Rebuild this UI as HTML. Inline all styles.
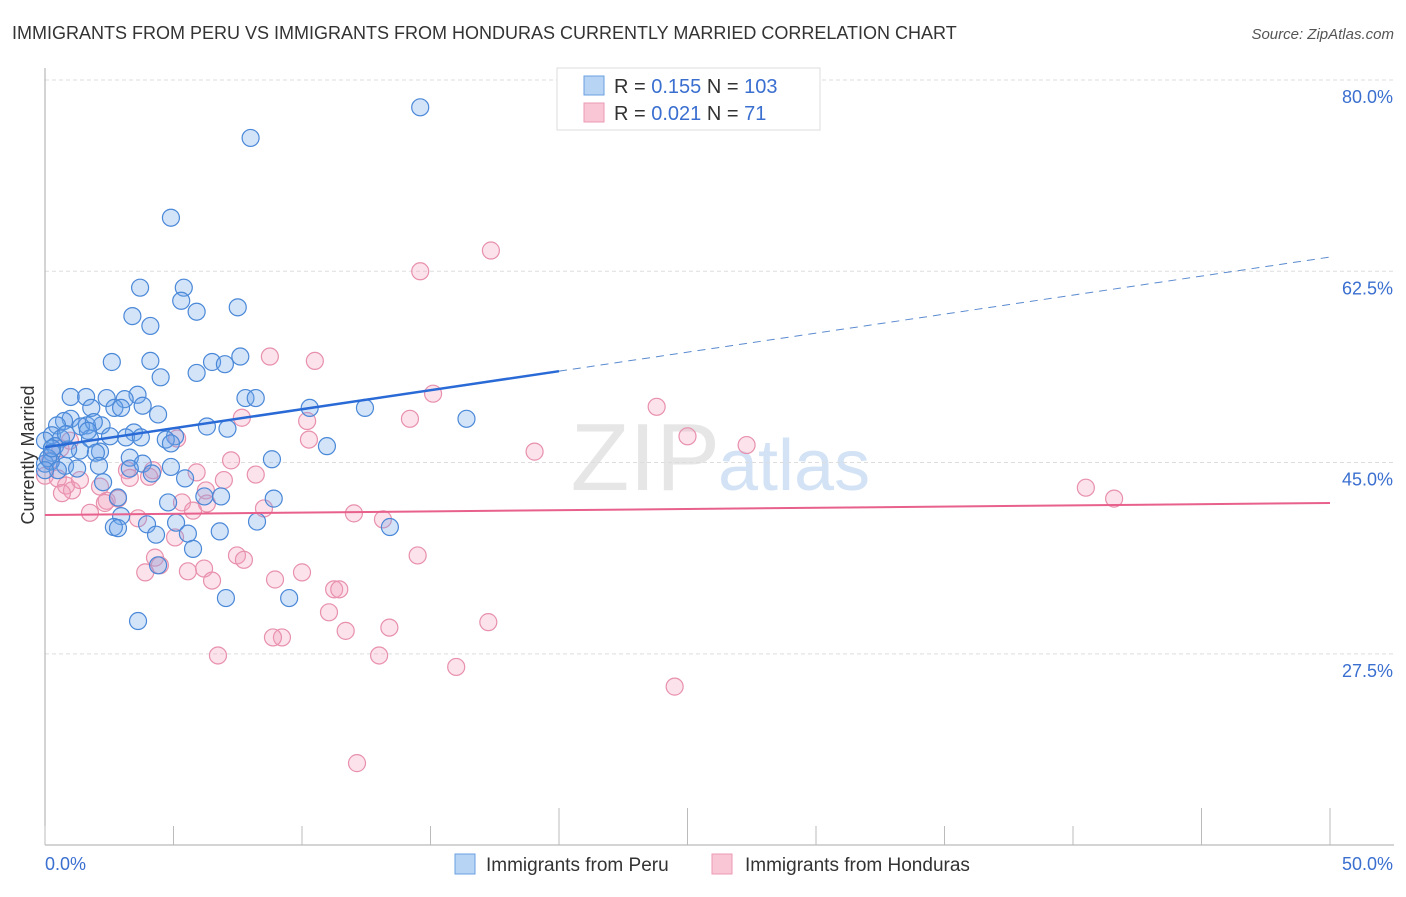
<!DOCTYPE html>
<html><head><meta charset="utf-8"><style>
body{margin:0;background:#fff;font-family:"Liberation Sans",sans-serif;}
svg text{font-family:"Liberation Sans",sans-serif;}
</style></head><body>
<svg id="chart" width="1406" height="892" xmlns="http://www.w3.org/2000/svg">
<text x="12" y="39" font-size="18" fill="#333">IMMIGRANTS FROM PERU VS IMMIGRANTS FROM HONDURAS CURRENTLY MARRIED CORRELATION CHART</text>
<text x="1394" y="39" font-size="15" fill="#555" font-style="italic" text-anchor="end">Source: ZipAtlas.com</text>
<text x="720" y="490" font-size="96" fill="#e6e6e6" text-anchor="end" font-family="Liberation Serif">ZIP</text>
<text x="718" y="490" font-size="72" fill="#d3e3f5">atlas</text>
<g id="grid"></g>
<g id="axes"></g>
<g id="pts"></g>
<g id="trend"></g>
<text transform="translate(34,455) rotate(-90)" font-size="18" fill="#333" text-anchor="middle">Currently Married</text>
<g>
<rect x="557" y="68" width="263" height="62" fill="#fff" stroke="#ddd"/>
<rect x="584" y="76" width="20" height="19" fill="#b8d4f5" stroke="#6aa0e0"/>
<rect x="584" y="103" width="20" height="19" fill="#f9c6d6" stroke="#ec9ab4"/>
<text x="614" y="93" font-size="20" fill="#333">R = <tspan fill="#3a6fd0">0.155</tspan>   N = <tspan fill="#3a6fd0">103</tspan></text>
<text x="614" y="120" font-size="20" fill="#333">R = <tspan fill="#3a6fd0">0.021</tspan>   N = <tspan fill="#3a6fd0">  71</tspan></text>
</g>
<g>
<rect x="455" y="854" width="20" height="20" fill="#b8d4f5" stroke="#6aa0e0"/>
<text x="486" y="871" font-size="19" fill="#333">Immigrants from Peru</text>
<rect x="712" y="854" width="20" height="20" fill="#f9c6d6" stroke="#ec9ab4"/>
<text x="745" y="871" font-size="19" fill="#333">Immigrants from Honduras</text>
</g>
</svg>
<script>
const yTicks=[27.5,45.0,62.5,80.0];
const yTickLabels=["27.5%","45.0%","62.5%","80.0%"];
const xTicks=[0,5,10,15,20,25,30,35,40,45,50];
const xEndLabels=["0.0%","50.0%"];
const peruX=[14.6,8.0,4.9,3.7,5.4,5.3,5.9,7.5,3.4,4.1,2.6,4.1,4.5,7.6,6.5,7.0,5.9,1.0,1.6,2.4,3.6,3.1,7.8,8.2,2.7,2.96,3.8,1.8,10.3,12.45,16.4,4.4,1.0,0.74,2.2,0.47,1.63,1.4,6.3,7.1,1.9,3.46,0.27,0.62,1.75,2.53,3.15,3.73,5.06,4.7,4.9,0,0.39,1.36,0.9,2.14,10.97,0.27,1.98,3.3,8.83,3.8,0,0.78,1.25,2.1,3.3,4.9,4.16,5.45,0.23,2.26,2.84,6.2,6.85,8.9,4.79,2.96,2.68,2.84,3.97,5.1,5.56,6.8,8.25,4.32,5.76,13.42,4.4,7.04,9.5,3.62,0.12,0.5,0,0.27,0.82,1.67];
const peruY=[77.5,74.7,67.4,61.0,61.0,59.8,58.8,59.2,58.4,57.5,54.2,54.3,52.8,54.7,54.2,54.0,53.2,51.0,51.0,50.9,51.2,50.8,50.9,50.9,50.0,50.0,50.2,50.0,50.0,50.0,49.0,49.4,49.0,48.8,48.4,48.4,48.4,48.3,48.3,48.1,48.7,47.75,47.5,47.2,47.2,47.4,47.3,47.3,47.4,47.1,46.75,47.0,46.5,46.1,46.2,46.0,46.5,45.9,45.9,45.45,45.3,44.9,44.9,44.7,44.45,44.7,44.45,44.6,44.0,43.55,45.1,43.2,41.8,41.9,41.9,41.7,41.35,40.1,39.1,39.0,39.35,39.5,38.5,38.7,39.6,38.4,37.1,39.1,35.6,32.6,32.6,30.5,45.4,44.3,44.3,46.3,47.6,47.9];
const hondX=[17.35,14.6,8.75,10.5,15.1,23.8,14.2,7.66,10.2,10.27,19.05,25.0,27.3,5.14,4.2,3.19,7.24,5.9,8.2,6.96,0,0.5,0.82,1.05,1.36,2.14,2.4,1.75,3.3,4.05,6.26,5.33,6.3,5.76,8.52,3.62,5.06,4.28,7.47,7.74,14.5,12.02,13.15,8.95,10.0,3.9,4.47,5.56,6.19,6.5,11.25,11.45,11.05,9.22,8.87,11.7,13.4,17.25,6.73,13.0,16.0,24.5,12.14,40.5,41.6,2.33,2.84,0.2,0.6,0.97,0.66];
const hondY=[64.4,62.5,54.7,54.3,51.3,50.1,49.0,49.1,48.8,47.1,46.0,47.4,46.6,47.2,44.3,44.3,45.2,44.1,43.9,43.4,43.8,43.55,42.9,42.45,43.4,42.8,41.5,40.4,43.6,43.7,42.45,41.35,41.25,40.6,40.8,39.9,38.15,36.3,36.5,36.1,36.5,40.35,39.8,34.3,34.95,34.95,35.6,35.05,35.3,34.2,33.4,33.4,31.3,29.0,29.0,29.6,29.9,30.4,27.35,27.35,26.3,24.5,17.5,42.7,41.7,41.3,41.7,45.2,46.3,47.0,42.2];
const peruTrend=[46.4,63.8]; // value at x=0 and x=50
const hondTrend=[40.2,41.3];
const peruSolidEnd=20;

const NS="http://www.w3.org/2000/svg";
const X0=45,X1=1330,YTOP=80,YPX=10.93;
const sx=v=>X0+(X1-X0)*v/50;
const sy=v=>YTOP+(80-v)*YPX;
function mk(t,a,p){const e=document.createElementNS(NS,t);for(const k in a)e.setAttribute(k,a[k]);p.appendChild(e);return e;}
const grid=document.getElementById('grid'),axes=document.getElementById('axes'),pts=document.getElementById('pts'),trend=document.getElementById('trend');
yTicks.forEach((v,i)=>{
 const l=mk('line',{x1:X0,x2:1394,y1:sy(v),y2:sy(v),stroke:'#ddd','stroke-dasharray':'4,3'},grid);
 
 
 const t=mk('text',{x:1393,y:sy(v)+23,'font-size':18,fill:'#3a6fd0','text-anchor':'end'},grid);
 t.textContent=yTickLabels[i];
 
 
});
const ya=mk('line',{x1:X0,x2:X0,y1:68,y2:845,stroke:'#aaa'},axes);


const xa=mk('line',{x1:X0,x2:1394,y1:845,y2:845,stroke:'#aaa'},axes);


xTicks.forEach((v,i)=>{
 const tk=mk('line',{x1:sx(v),x2:sx(v),y1:(v%25===20||v===25||v===50)?808:826,y2:845,stroke:'#bbb'},axes);
 
 
});
[[0,'start'],[50,'end']].forEach((p,i)=>{
 const t=mk('text',{x:i?1393:X0,y:870,'font-size':18,fill:'#3a6fd0','text-anchor':p[1]},axes);
 t.textContent=xEndLabels[i];
 
 
});
function dots(xs,ys,fill,stroke,name){
 xs.forEach((x,i)=>{
  const c=mk('circle',{cx:sx(x),cy:sy(ys[i]),r:8.5,fill:fill,stroke:stroke,'stroke-width':1.2},pts);
  
  
 });
}
dots(hondX,hondY,'rgba(242,160,188,0.3)','#e890ac','honduras-point');
dots(peruX,peruY,'rgba(110,165,235,0.3)','#4a88d8','peru-point');
const pv=x=>peruTrend[0]+(peruTrend[1]-peruTrend[0])*x/50;
const hv=x=>hondTrend[0]+(hondTrend[1]-hondTrend[0])*x/50;
const t1=mk('line',{x1:sx(0),y1:sy(pv(0)),x2:sx(peruSolidEnd),y2:sy(pv(peruSolidEnd)),stroke:'#2a6ad6','stroke-width':2.5},trend);


const t2=mk('line',{x1:sx(peruSolidEnd),y1:sy(pv(peruSolidEnd)),x2:sx(50),y2:sy(pv(50)),stroke:'#5a8ad0','stroke-width':1,'stroke-dasharray':'8,6'},trend);


const t3=mk('line',{x1:sx(0),y1:sy(hv(0)),x2:sx(50),y2:sy(hv(50)),stroke:'#e8608c','stroke-width':2},trend);


</script>
</body></html>
